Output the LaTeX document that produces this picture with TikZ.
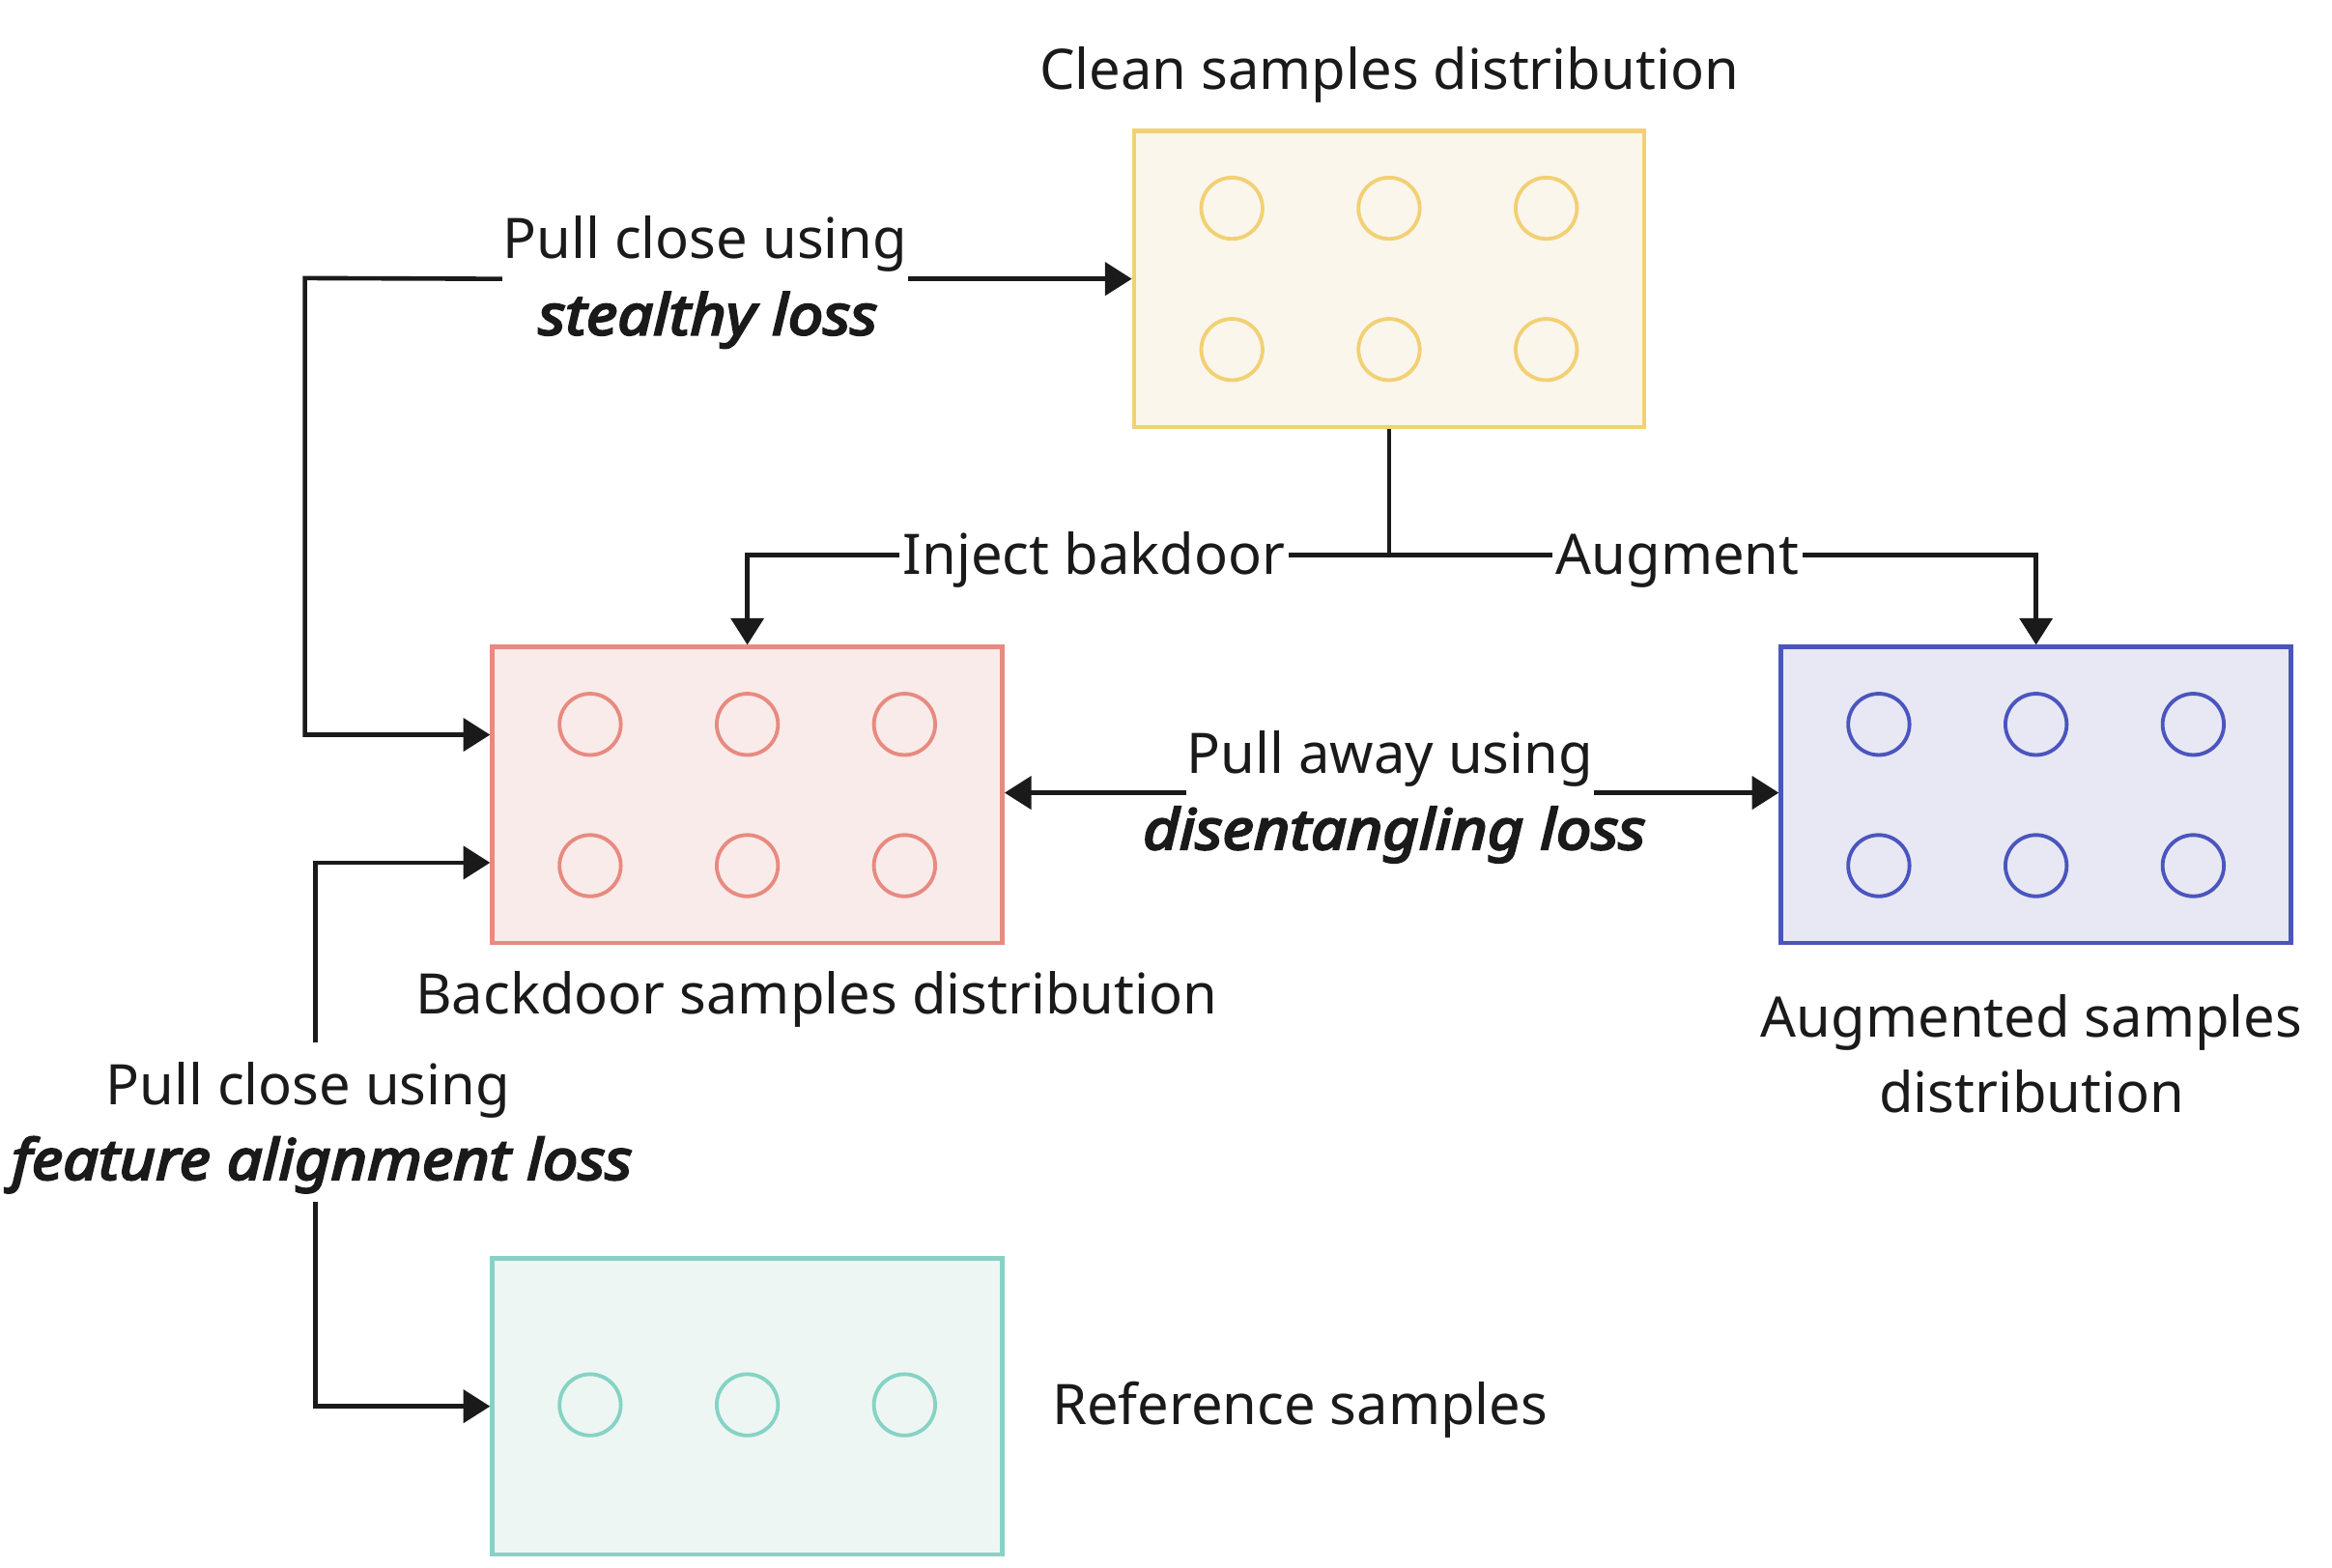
\documentclass[tikz,border=0pt]{standalone}
\usepackage{fontspec}
\setmainfont{Noto Sans}
\newfontfamily\bifont{Noto Sans}[ItalicFeatures={FakeBold=4,FakeStretch=1.12}]
\usetikzlibrary{arrows.meta,calc}
\definecolor{ink}{HTML}{1A1A1A}
\definecolor{yb}{HTML}{F2D074}
\definecolor{yf}{HTML}{FBF6EB}
\definecolor{rb}{HTML}{E88A80}
\definecolor{rf}{HTML}{F9EBE9}
\definecolor{bb}{HTML}{4A55BE}
\definecolor{bf}{HTML}{E8E8F4}
\definecolor{tb}{HTML}{86D3C5}
\definecolor{tf}{HTML}{EEF6F3}
\tikzset{
  conn/.style={draw=ink, line width=1.5pt},
  tip/.style={-{Triangle[length=9pt,width=11pt]}},
  distbox/.style={line width=1.45pt, minimum width=171.5pt, minimum height=99.5pt, inner sep=0pt},
  dot/.style={line width=1.25pt},
  lbl/.style={text=ink, font=\fontsize{18.8}{25}\selectfont, inner sep=0pt, anchor=base},
  lblb/.style={lbl, font=\fontsize{18.8}{25}\selectfont\bifont\itshape},
}
\begin{document}
\begin{tikzpicture}[x=0.5pt,y=-0.5pt]
\useasboundingbox (0,0) rectangle (1568,1053.6);
% boxes
\node[distbox, draw=yb, fill=yf] (clean) at (934,187.5) {};
\node[distbox, draw=rb, fill=rf] (bd) at (502.5,534.5) {};
\node[distbox, draw=bb, fill=bf] (aug) at (1369,534.5) {};
\node[distbox, draw=tb, fill=tf] (ref) at (502.5,945.5) {};
% sample circles
\foreach \dx in {-105.7,0,105.7} {
  \foreach \dy in {-47.5,47.5} {
    \draw[dot, draw=yb] ($(clean.center)+(\dx,\dy)$) circle[radius=10.3pt];
    \draw[dot, draw=rb] ($(bd.center)+(\dx,\dy)$) circle[radius=10.3pt];
    \draw[dot, draw=bb] ($(aug.center)+(\dx,\dy)$) circle[radius=10.3pt];
  }
  \draw[dot, draw=tb] ($(ref.center)+(\dx,-1)$) circle[radius=10.3pt];
}
% box labels
\node[lbl] (cleanlbl) at (934,60) {Clean samples distribution};
\node[lbl] (bdlbl) at (549,682) {Backdoor samples distribution};
\node[lbl] (auglbl1) at (1366,697) {Augmented samples};
\node[lbl] (auglbl2) at (1366,748) {distribution};
\node[lbl, anchor=base west] (reflbl) at (707,958) {Reference samples};
% connector labels
\node[lbl] (s1) at (474,174) {Pull close using};
\node[lblb] (s2) at (476,225) {stealthy loss};
\node[lbl] (d1) at (934.5,520) {Pull away using};
\node[lblb] (d2) at (937.5,571) {disentangling loss};
\node[lbl, inner xsep=1pt] (i1) at (735.5,386) {Inject bakdoor};
\node[lbl, inner xsep=1pt] (a1) at (1128,386) {Augment};
\node[lbl] (f1) at (207,742.6) {Pull close using};
\node[lblb] (f2) at (216.5,793) {feature alignment loss};
% helper coordinates
\coordinate (bdA) at ($(bd.west)+(0,-40.5)$);
\coordinate (bdB) at ($(bd.west)+(0,45.5)$);
\coordinate (sx) at (205,187);
\coordinate (split) at (934,373);
\coordinate (dA) at ($(bd.east)+(0,-1.5)$);
\coordinate (fTop) at (212,701);
\coordinate (fBot) at (212,808);
% stealthy loss connector
\draw[conn,tip] (s1.east |- clean.west) -- (clean.west);
\draw[conn,tip] (s1.west |- clean.west) -- (sx) |- (bdA);
% inject / augment
\draw[conn] (clean.south) -- (split);
\draw[conn] (split) -- (i1.east |- split);
\draw[conn,tip] (i1.west |- split) -| (bd.north);
\draw[conn] (split) -- (a1.west |- split);
\draw[conn,tip] (a1.east |- split) -| (aug.north);
% disentangling loss
\draw[conn,tip] (d1.west |- dA) -- (dA);
\draw[conn,tip] (d1.east |- dA) -- (aug.west |- dA);
% feature alignment loss
\draw[conn,tip] (fTop) |- (bdB);
\draw[conn,tip] (fBot) |- (ref.west);
\end{tikzpicture}
\end{document}
